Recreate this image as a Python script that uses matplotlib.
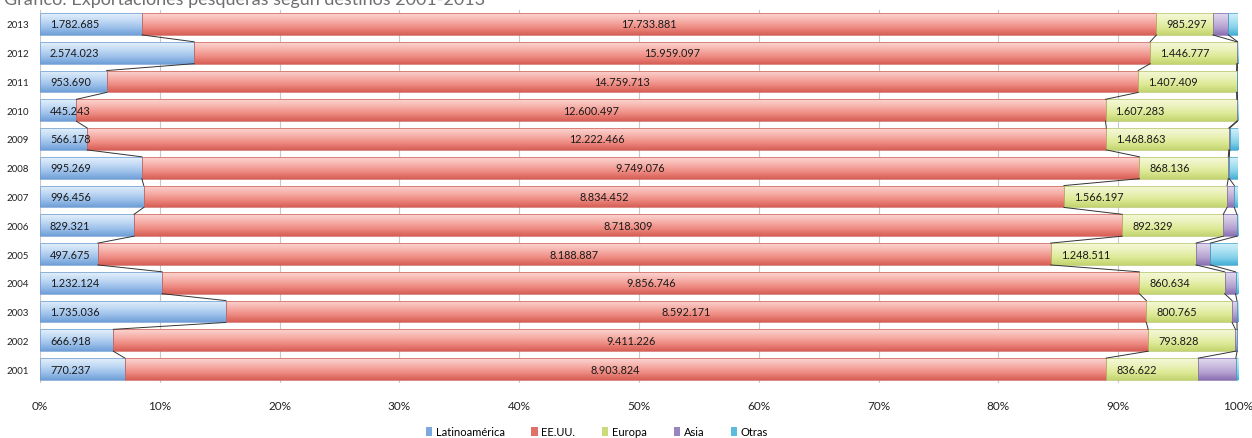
import numpy as np
import matplotlib
matplotlib.use("Agg")
import matplotlib.pyplot as plt
from matplotlib.colors import LinearSegmentedColormap
from matplotlib.patches import Patch

plt.rcParams['font.family'] = ['Lato', 'DejaVu Sans']

years = ["2001", "2002", "2003", "2004", "2005", "2006", "2007",
         "2008", "2009", "2010", "2011", "2012", "2013"]
series_names = ["Latinoamérica", "EE.UU.", "Europa", "Asia", "Otras"]

latinoamerica = [770237, 666918, 1735036, 1232124, 497675, 829321, 996456,
                 995269, 566178, 445243, 953690, 2574023, 1782685]
eeuu = [8903824, 9411226, 8592171, 9856746, 8188887, 8718309, 8834452,
        9749076, 12222466, 12600497, 14759713, 15959097, 17733881]
europa = [836622, 793828, 800765, 860634, 1248511, 892329, 1566197,
          868136, 1468863, 1607283, 1407409, 1446777, 985297]
asia = [340000, 15000, 45000, 110000, 124000, 120000, 70000,
        10000, 10000, 10000, 10000, 15000, 272000]
otras = [20000, 8000, 10000, 25000, 237000, 10000, 35000,
         85000, 100000, 5000, 10000, 5000, 168000]

data = np.array([latinoamerica, eeuu, europa, asia, otras], dtype=float)
totals = data.sum(axis=0)
shares = data / totals
cum = np.cumsum(shares, axis=0)
starts = cum - shares

# (top, upper-mid, lower-mid, bottom) gradient stops per series
grads = [
    ("#e4f0fb", "#c3dbf4", "#9cc0ea", "#6f9fd8"),
    ("#fbd6d2", "#f6b2ab", "#ee8a81", "#d65f56"),
    ("#f5f9dc", "#ebf2bb", "#dde995", "#c3d46f"),
    ("#e3dbef", "#cdbfe0", "#b3a0cf", "#8a70b3"),
    ("#d2f0f8", "#ade2f2", "#84d0ea", "#45aed4"),
]
edges = ["#6a98cf", "#cc5e55", "#b1c264", "#806aa8", "#43a3c7"]
legend_cols = ["#7aa8df", "#e0716a", "#cbdb7c", "#9a84c0", "#5cbcde"]

fig = plt.figure(figsize=(12.52, 4.39), dpi=100)
ax = fig.add_axes([40/1252, 1-384.4/439, (1238-40)/1252, (384.4-10.6)/439])

h = 0.76
ypos = np.arange(len(years))
# row 0 = bottom of bar (dark), last row = top (light) with origin='lower'
grad_img = np.linspace(1, 0, 64).reshape(-1, 1)

for k in range(len(series_names)):
    cmap = LinearSegmentedColormap.from_list("g%d" % k, list(grads[k]))
    bars = ax.barh(ypos, shares[k], left=starts[k], height=h, color=grads[k][2],
                   edgecolor='none', linewidth=0, zorder=3)
    for i, b in enumerate(bars):
        x0 = starts[k][i]
        x1 = cum[k][i]
        im = ax.imshow(grad_img, cmap=cmap, vmin=0, vmax=1, aspect='auto',
                       extent=[x0, x1, ypos[i] - h/2, ypos[i] + h/2],
                       origin='lower', zorder=3.5, interpolation='bilinear')
        im.set_clip_path(b)
        ax.add_patch(plt.Rectangle((x0, ypos[i] - h/2), x1 - x0, h, fill=False,
                                   edgecolor=edges[k], linewidth=0.5, zorder=4))

# series lines
for k in range(4):
    for i in range(len(years) - 1):
        ax.plot([cum[k][i+1], cum[k][i]], [ypos[i+1] - h/2, ypos[i] + h/2],
                color="#333333", linewidth=0.7, zorder=5)

# labels
px = 1.0 / 1198
fs = 7.8
for i in range(len(years)):
    ax.text(starts[0][i] + 10*px, ypos[i], f"{int(latinoamerica[i]):,}".replace(",", "."),
            ha='left', va='center', fontsize=fs, color="#1a1a1a", zorder=6)
    ax.text((starts[1][i] + cum[1][i]) / 2, ypos[i], f"{int(eeuu[i]):,}".replace(",", "."),
            ha='center', va='center', fontsize=fs, color="#1a1a1a", zorder=6)
    ax.text(starts[2][i] + 10*px, ypos[i], f"{int(europa[i]):,}".replace(",", "."),
            ha='left', va='center', fontsize=fs, color="#1a1a1a", zorder=6)

ax.set_xlim(0, 1)
ax.set_ylim(-0.5, len(years) - 0.5)
ax.set_xticks(np.arange(0, 1.01, 0.1))
ax.set_xticklabels([f"{int(round(v*100))}%" for v in np.arange(0, 1.01, 0.1)],
                   fontsize=8.5, color="#222222")
ax.set_yticks(ypos)
ax.set_yticklabels(years, fontsize=7, color="#222222")
ax.tick_params(axis='x', length=0, pad=12)
ax.tick_params(axis='y', length=0, pad=8)
ax.grid(axis='x', color="#c8c8c8", linewidth=0.8, zorder=0)
ax.set_axisbelow(True)
for s in ax.spines.values():
    s.set_visible(False)

handles = [Patch(facecolor=c, edgecolor='none') for c in legend_cols]
fig.legend(handles, series_names, loc='center', bbox_to_anchor=(597/1252, 1-433/439),
           ncol=5, frameon=False, fontsize=8, handlelength=0.55, handleheight=0.9,
           handletextpad=0.35, columnspacing=2.4)

fig.text(0.003, 1.0, "Gráfico: Exportaciones pesqueras según destinos 2001-2013",
         ha='left', va='center', fontsize=13, color="#6f6f6f")

fig.savefig("out.png", dpi=100)
